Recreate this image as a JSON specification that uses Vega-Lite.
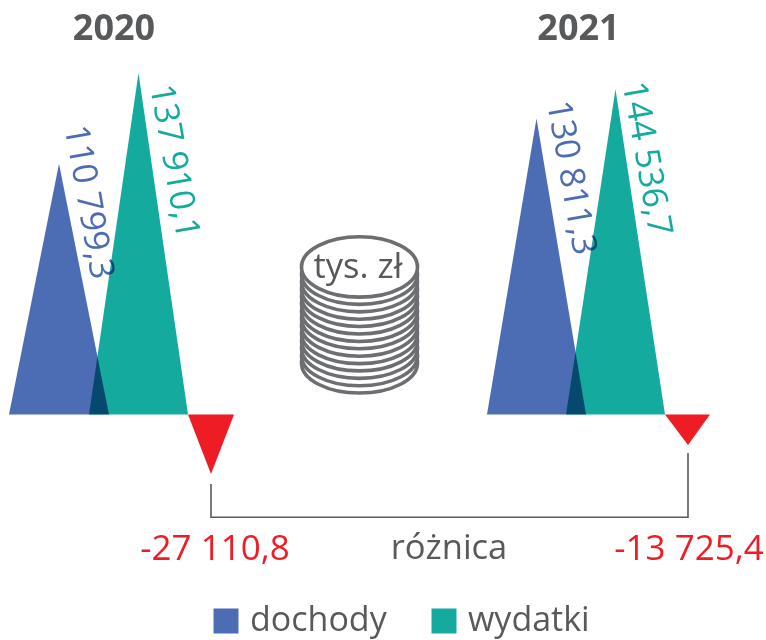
{"$schema":"https://vega.github.io/schema/vega-lite/v6.json","width":766,"height":640,"padding":0,"autosize":{"type":"fit","contains":"padding"},"background":"white","config":{"view":{"stroke":null},"font":"Open Sans"},
"datasets":{
"trojkaty":[
{"rok":"2020","seria":"dochody","poz":9,"wartosc":0},{"rok":"2020","seria":"dochody","poz":59,"wartosc":110.8},{"rok":"2020","seria":"dochody","poz":109,"wartosc":0},
{"rok":"2020","seria":"wydatki","poz":89,"wartosc":0},{"rok":"2020","seria":"wydatki","poz":138.5,"wartosc":150.9},{"rok":"2020","seria":"wydatki","poz":188,"wartosc":0},
{"rok":"2021","seria":"dochody","poz":487,"wartosc":0},{"rok":"2021","seria":"dochody","poz":536.5,"wartosc":130.8},{"rok":"2021","seria":"dochody","poz":586,"wartosc":0},
{"rok":"2021","seria":"wydatki","poz":566,"wartosc":0},{"rok":"2021","seria":"wydatki","poz":615.5,"wartosc":143.7},{"rok":"2021","seria":"wydatki","poz":665,"wartosc":0}],
"roznica":[
{"rok":"2020","poz":188,"wartosc":0},{"rok":"2020","poz":211,"wartosc":-26.3},{"rok":"2020","poz":234,"wartosc":0},
{"rok":"2021","poz":665,"wartosc":0},{"rok":"2021","poz":688,"wartosc":-13.5},{"rok":"2021","poz":710,"wartosc":0}],
"klamra":[{"k":1,"poz":211,"wartosc":-30.7},{"k":2,"poz":211,"wartosc":-45.4},{"k":3,"poz":688,"wartosc":-45.4},{"k":4,"poz":688,"wartosc":-17}],
"monety":[{"poz":359.5,"wartosc":22.8},{"poz":359.5,"wartosc":26},{"poz":359.5,"wartosc":29.3},{"poz":359.5,"wartosc":32.6},{"poz":359.5,"wartosc":35.8},{"poz":359.5,"wartosc":39.1},{"poz":359.5,"wartosc":42.4},{"poz":359.5,"wartosc":45.6},{"poz":359.5,"wartosc":48.9},{"poz":359.5,"wartosc":52.2},{"poz":359.5,"wartosc":55.4},{"poz":359.5,"wartosc":58.7},{"poz":359.5,"wartosc":62},{"poz":359.5,"wartosc":65.2}],
"etykiety":[
{"seria":"dochody","tekst":"110 799,3","poz":88,"wartosc":93.8},
{"seria":"wydatki","tekst":"137 910,1","poz":173.5,"wartosc":111.8},
{"seria":"dochody","tekst":"130 811,3","poz":570.5,"wartosc":104.6},
{"seria":"wydatki","tekst":"144 536,7","poz":646,"wartosc":113}],
"lata":[{"tekst":"2020","poz":114,"wartosc":170.3},{"tekst":"2021","poz":578.5,"wartosc":170.3}],
"opisy":[{"tekst":"różnica","poz":449,"wartosc":-59.4},{"tekst":"tys. zł","poz":358,"wartosc":64.7}],
"wyniki":[{"tekst":"-27 110,8","poz":215,"wartosc":-59.4},{"tekst":"-13 725,4","poz":689,"wartosc":-59.4}]
},
"encoding":{
"x":{"field":"poz","type":"quantitative","axis":null,"scale":{"domain":[0,766],"nice":false,"zero":false}},
"y":{"field":"wartosc","type":"quantitative","axis":null,"stack":null,"scale":{"domain":[-99.65,183.17],"nice":false,"zero":false}}
},
"layer":[
{"data":{"name":"trojkaty"},"mark":{"type":"area","blend":"multiply","interpolate":"linear"},"encoding":{"detail":{"field":"rok"},"color":{"field":"seria","type":"nominal","scale":{"domain":["dochody","wydatki"],"range":["#4C6DB3","#14AB9E"]},"legend":{"title":null,"orient":"none","legendX":209,"legendY":604,"direction":"horizontal","columns":2,"symbolType":"square","symbolSize":625,"labelFontSize":34,"labelFont":"Open Sans","labelColor":"#58595B","labelOffset":7,"columnPadding":40,"padding":0,"symbolStrokeWidth":0,"labelLimit":300}}}},
{"data":{"name":"roznica"},"mark":{"type":"area","color":"#EE1C25","interpolate":"linear"},"encoding":{"detail":{"field":"rok"}}},
{"data":{"name":"klamra"},"mark":{"type":"line","color":"#58595B","strokeWidth":1.6},"encoding":{"order":{"field":"k","type":"ordinal"}}},
{"data":{"name":"monety"},"mark":{"type":"point","filled":true,"fill":"white","fillOpacity":1,"opacity":1,"stroke":"#6D6E71","strokeWidth":3.6,"shape":"M-1,0A1,0.52 0 1,1 1,0A1,0.52 0 1,1 -1,0Z","size":13456},"encoding":{}},
{"data":{"name":"etykiety"},"mark":{"type":"text","angle":80,"fontSize":34.5,"font":"Open Sans","blend":"multiply"},"encoding":{"text":{"field":"tekst"},"color":{"field":"seria","type":"nominal","legend":null}}},
{"data":{"name":"lata"},"mark":{"type":"text","fontSize":36,"font":"Open Sans","fontWeight":"bold","color":"#58595B"},"encoding":{"text":{"field":"tekst"}}},
{"data":{"name":"opisy"},"mark":{"type":"text","fontSize":34.5,"font":"Open Sans","color":"#58595B"},"encoding":{"text":{"field":"tekst"}}},
{"data":{"name":"wyniki"},"mark":{"type":"text","fontSize":35,"font":"Open Sans","color":"#EE1C25"},"encoding":{"text":{"field":"tekst"}}}
]}
